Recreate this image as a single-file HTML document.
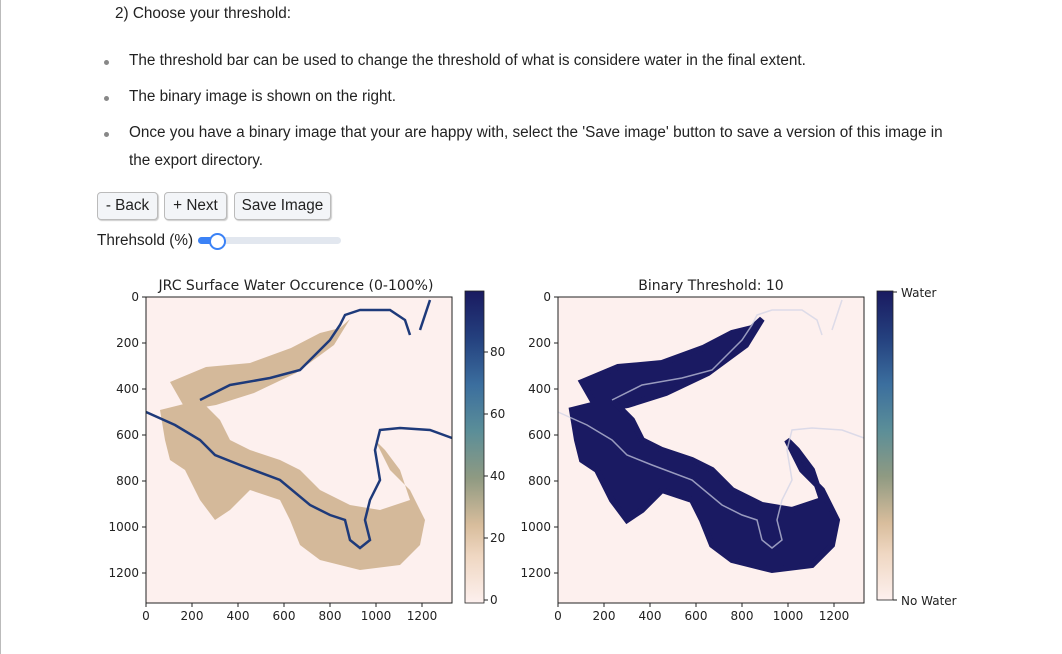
<!DOCTYPE html>
<html><head><meta charset="utf-8"><style>
body{margin:0;width:1062px;height:654px;background:#fff;font-family:"Liberation Sans",sans-serif;color:#222;position:relative;overflow:hidden}
.lb{position:absolute;left:0;top:0;width:1px;height:654px;background:#bbb}
.t{position:absolute;font-size:15.3px;white-space:nowrap}
.dot{position:absolute;width:5px;height:5px;border-radius:50%;background:#888}
.btn{position:absolute;top:192px;height:26px;border:1px solid #bbb;border-radius:4px;background:#f3f5f8;box-shadow:1px 1px 1px #ccc;font-size:15.3px;line-height:26px;text-align:center}
svg{position:absolute;left:0;top:0}
svg text{font-family:"DejaVu Sans",sans-serif;fill:#222}
</style></head><body>
<div class="lb"></div>
<div class="t" style="left:115px;top:5px">2) Choose your threshold:</div>
<div class="dot" style="left:104px;top:60px"></div>
<div class="t" style="left:129px;top:52px">The threshold bar can be used to change the threshold of what is considere water in the final extent.</div>
<div class="dot" style="left:104px;top:96px"></div>
<div class="t" style="left:129px;top:88px">The binary image is shown on the right.</div>
<div class="dot" style="left:104px;top:132px"></div>
<div class="t" style="left:129px;top:124px">Once you have a binary image that your are happy with, select the 'Save image' button to save a version of this image in</div>
<div class="t" style="left:129px;top:152px">the export directory.</div>
<div class="btn" style="left:97px;width:59px">- Back</div>
<div class="btn" style="left:164px;width:61px">+ Next</div>
<div class="btn" style="left:234px;width:95px">Save Image</div>
<div class="t" style="left:97px;top:232px">Threhsold (%)</div>
<div style="position:absolute;left:198px;top:237px;width:143px;height:7px;border-radius:4px;background:#e2e7ef"></div>
<div style="position:absolute;left:198px;top:237px;width:20px;height:7px;border-radius:4px;background:#3b82f6"></div>
<div style="position:absolute;left:209px;top:233px;width:13px;height:13px;border-radius:50%;background:#fff;border:2px solid #3b82f6"></div>

<svg width="1062" height="654" id="fig">
<defs>
<linearGradient id="cm" x1="0" y1="1" x2="0" y2="0">
<stop offset="0" stop-color="#fdf0ee"/><stop offset="0.15" stop-color="#efd7c2"/><stop offset="0.25" stop-color="#d8bd9c"/><stop offset="0.4" stop-color="#8f9a82"/><stop offset="0.55" stop-color="#5b8e98"/><stop offset="0.7" stop-color="#3b6e9e"/><stop offset="0.85" stop-color="#24407e"/><stop offset="1" stop-color="#1a1a60"/>
</linearGradient>
<g id="land">
<path d="M24,85 L60,70 L104,66 L145,51 L174,36 L194,31 L204,22 L188,48 L150,76 L108,96 L70,108 L40,113 Z"/>
<path d="M14,113 L54,103 L74,123 L84,143 L104,153 L134,163 L154,173 L174,193 L204,208 L234,213 L264,203 L254,173 L239,153 L229,143 L244,173 L264,193 L279,223 L274,248 L254,268 L214,273 L174,263 L154,248 L144,223 L134,203 L104,193 L84,213 L69,223 L54,203 L39,173 L24,163 L19,143 Z"/>
</g>
<g id="river" fill="none">
<path d="M0,115 L29,128 L54,143 L69,158 L94,168 L134,183 L164,208 L184,218 L199,223 L204,243 L214,251 L224,243 L219,223 L224,203 L234,183 L229,153 L234,133 L254,131 L284,133 L306,141"/>
<path d="M54,103 L84,88 L124,81 L154,73 L174,53 L184,43 L194,28 L199,18 L214,13 L244,13 L259,23 L264,38 M274,33 L279,18 L284,3"/>
</g>
</defs>
<g transform="translate(146,297)">
<rect width="306" height="306" fill="#fdf0ee"/>
<use href="#land" fill="#d4b99a"/>
<use href="#river" stroke="#1e3a7a" stroke-width="2.5"/>
<rect width="306" height="306" fill="none" stroke="#222" stroke-width="1"/>
</g>
<text x="296" y="290" font-size="14" text-anchor="middle">JRC Surface Water Occurence (0-100%)</text>
<rect x="465" y="291" width="19" height="312" fill="url(#cm)" stroke="#222" stroke-width="0.8"/>
<g transform="translate(558,297)">
<rect width="306" height="306" fill="#fdf0ee"/>
<use href="#land" fill="#1a1a62" stroke="#1a1a62" stroke-width="6"/>
<use href="#river" stroke="#cfd2e6" stroke-width="1.5" opacity="0.7"/>
<rect width="306" height="306" fill="none" stroke="#222" stroke-width="1"/>
</g>
<text x="711" y="290" font-size="14" text-anchor="middle">Binary Threshold: 10</text>
<rect x="877" y="291" width="16" height="309" fill="url(#cm)" stroke="#222" stroke-width="0.8"/>
<line x1="893" y1="292" x2="897" y2="292" stroke="#222"/>
<line x1="893" y1="600" x2="897" y2="600" stroke="#222"/>
<text x="901" y="297" font-size="12">Water</text>
<text x="901" y="605" font-size="12">No Water</text>
<g id="ticks"></g>
</svg>
<script>
const xTicks=[0,200,400,600,800,1000,1200];
const yTicks=[0,200,400,600,800,1000,1200];
const cbTicks=[0,20,40,60,80];
const g=document.getElementById('ticks');
const NS='http://www.w3.org/2000/svg';
function el(t,a){const e=document.createElementNS(NS,t);for(const k in a)e.setAttribute(k,a[k]);g.appendChild(e);return e;}
const sc=0.23;
[146,558].forEach(function(x0){
  xTicks.forEach(function(v){
    const x=x0+v*sc;
    const l=el('line',{x1:x,y1:603,x2:x,y2:607,stroke:'#222'});
    
    
    const t=el('text',{x:x,y:620,'font-size':12,'text-anchor':'middle'});
    t.textContent=v;
    
    
  });
  yTicks.forEach(function(v){
    const y=297+v*sc;
    const l=el('line',{x1:x0-4,y1:y,x2:x0,y2:y,stroke:'#222'});
    
    
    const t=el('text',{x:x0-7,y:y+4,'font-size':12,'text-anchor':'end'});
    t.textContent=v;
    
    
  });
});
cbTicks.forEach(function(v){
  const y=600-v*3.1;
  const l=el('line',{x1:484,y1:y,x2:488,y2:y,stroke:'#222'});
  
  
  const t=el('text',{x:490,y:y+4,'font-size':12});
  t.textContent=v;
  
  
});
</script>
</body></html>
